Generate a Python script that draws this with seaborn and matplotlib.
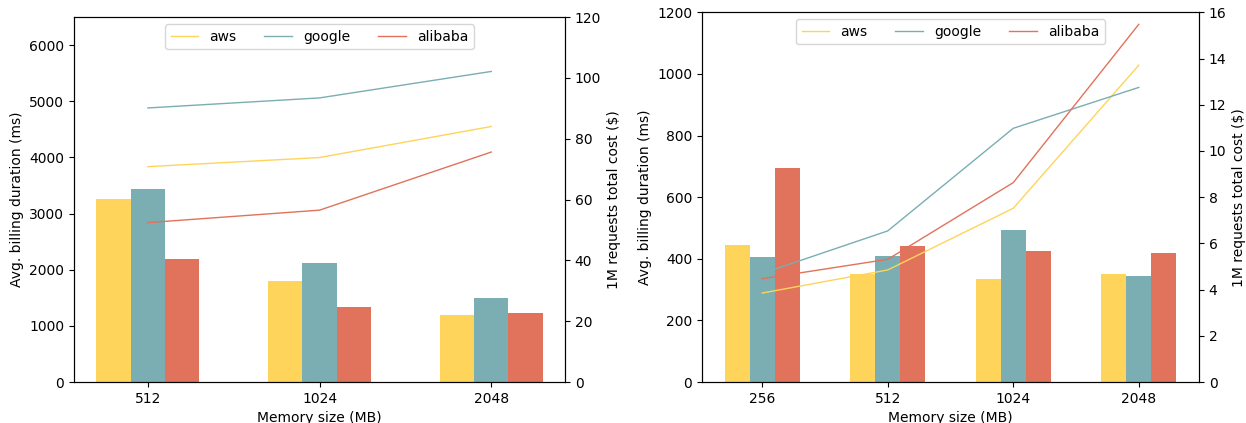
import numpy as np
import pandas as pd
import seaborn as sns
import matplotlib.pyplot as plt

providers = ['aws', 'google', 'alibaba']
colors = ['#FED45B', '#7AAEB2', '#E1725B']

# left panel: 512 / 1024 / 2048 MB
mem_left = ['512', '1024', '2048']
dur_left = {
    'aws': [3265, 1805, 1195],
    'google': [3445, 2125, 1500],
    'alibaba': [2195, 1340, 1232],
}
cost_left = {
    'aws': [70.8, 73.8, 84.0],
    'google': [90.1, 93.4, 102.1],
    'alibaba': [52.4, 56.5, 75.6],
}

# right panel: 256 / 512 / 1024 / 2048 MB
mem_right = ['256', '512', '1024', '2048']
dur_right = {
    'aws': [445, 350, 334, 350],
    'google': [406, 409, 493, 344],
    'alibaba': [694, 441, 425, 419],
}
cost_right = {
    'aws': [3.85, 4.85, 7.52, 13.71],
    'google': [4.7, 6.54, 10.98, 12.75],
    'alibaba': [4.47, 5.31, 8.63, 15.48],
}


def to_long(mem, data, col):
    rows = []
    for p in providers:
        for m, v in zip(mem, data[p]):
            rows.append({'Memory': m, 'Provider': p, col: v})
    return pd.DataFrame(rows)


def draw(ax, mem, dur, cost, ylim, ylim2):
    df_bar = to_long(mem, dur, 'Duration')
    df_line = to_long(mem, cost, 'Cost')
    sns.barplot(data=df_bar, x='Memory', y='Duration', hue='Provider',
                order=mem, hue_order=providers, palette=colors,
                width=0.6, saturation=1, legend=False, ax=ax)
    ax.set_ylim(*ylim)
    ax.set_xlabel('Memory size (MB)')
    ax.set_ylabel('Avg. billing duration (ms)')

    ax2 = ax.twinx()
    sns.lineplot(data=df_line, x='Memory', y='Cost', hue='Provider',
                 hue_order=providers, palette=colors, sort=False,
                 linewidth=1, ax=ax2)
    ax2.set_ylim(*ylim2)
    ax2.set_ylabel('1M requests total cost ($)')
    ax2.legend(loc='upper center', ncol=3, title=None)
    return ax2


fig = plt.figure(figsize=(12.46, 4.23), dpi=100)
ax_l = fig.add_axes([0.0594, 0.0969, 0.3941, 0.8629])
ax_r = fig.add_axes([0.5634, 0.0969, 0.3989, 0.8740])

draw(ax_l, mem_left, dur_left, cost_left, (0, 6500), (0, 120))
draw(ax_r, mem_right, dur_right, cost_right, (0, 1200), (0, 16))

fig.savefig('out.png', dpi=100)
